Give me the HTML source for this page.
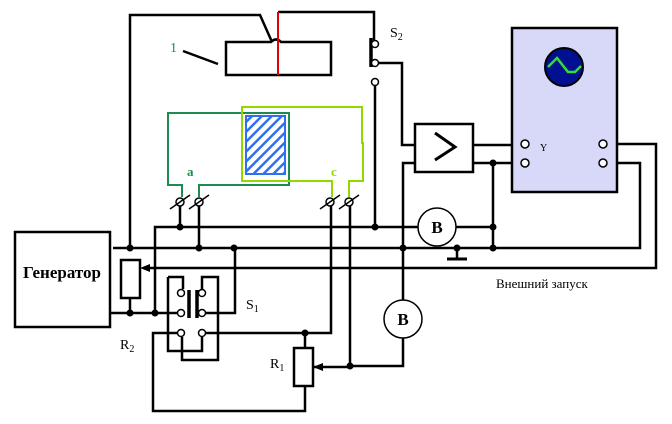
<!DOCTYPE html>
<html><head><style>body{margin:0;background:#fff}svg{display:block}text{font-family:"Liberation Serif",serif}</style></head><body>
<svg width="672" height="424" viewBox="0 0 672 424" xmlns="http://www.w3.org/2000/svg">
<defs><pattern id="h" width="7" height="7" patternUnits="userSpaceOnUse" patternTransform="rotate(45)"><rect width="7" height="7" fill="#fff"/><rect width="2.5" height="7" fill="#3070f0"/></pattern></defs>
<g fill="none" stroke="#000" stroke-width="2.5">
<polyline points="130,248 130,15 260,15 272,42"/>
<path d="M226,42 H271 Q276,37 281,42 H331 V75 H226 Z"/>
<line x1="183" y1="51" x2="218" y2="64"/>
<polyline points="278,12 374,12 374,40"/>
<line x1="371" y1="38" x2="371" y2="67" stroke-width="3.5"/>
<polyline points="379,63 402,63 402,145 415,145"/>
<line x1="375" y1="86" x2="375" y2="227"/>
<rect x="415" y="124" width="58" height="48"/>
<polyline points="435,133 455,147 435,160" stroke-width="3"/>
<line x1="473" y1="145" x2="521" y2="145"/>
<line x1="473" y1="163" x2="521" y2="163"/>
<polyline points="415,163 403,163 403,300"/>
<polyline points="403,338 403,366 350,366"/>
<polyline points="607,144 656,144 656,268 148,268"/>
<polyline points="607,163 640,163 640,248 113,248"/>
<line x1="493" y1="163" x2="493" y2="248"/>
<polyline points="155,313 155,227 418,227"/>
<line x1="456" y1="227" x2="493" y2="227"/>
<line x1="457" y1="248" x2="457" y2="258"/>
<line x1="447" y1="259" x2="467" y2="259" stroke-width="3"/>
<rect x="15" y="232" width="95" height="95"/>
<rect x="121" y="260" width="19" height="38"/>
<line x1="130" y1="298" x2="130" y2="313"/>
<line x1="110" y1="313" x2="177" y2="313"/>
<polyline points="168,277 183,277 183,289"/>
<polyline points="168,277 168,351 202,351 202,337"/>
<polyline points="182,337 182,360 218,360 218,277 202,277 202,289"/>
<line x1="189" y1="290" x2="189" y2="318" stroke-width="3.5"/>
<line x1="197" y1="290" x2="197" y2="318" stroke-width="3.5"/>
<polyline points="206,313 235,313 235,248"/>
<polyline points="177,333 153,333 153,411 305,411 305,386"/>
<polyline points="206,333 331,333 331,205"/>
<line x1="305" y1="333" x2="305" y2="348"/>
<rect x="294" y="348" width="19" height="38"/>
<polyline points="313,367 350,367 350,205"/>
<line x1="180" y1="205" x2="180" y2="227"/>
<line x1="199" y1="205" x2="199" y2="248"/>
</g>
<polygon points="140,268 150,264 150,272" fill="#000"/>
<polygon points="313,367 323,363 323,371" fill="#000"/>
<line x1="278" y1="12" x2="278" y2="75" stroke="#e00000" stroke-width="2"/>
<g fill="none" stroke-width="2">
<polyline points="182,197 182,185 168,185 168,113 289,113 289,185 199,185 199,197" stroke="#1e8c50"/>
<rect x="246" y="116" width="39" height="58" fill="url(#h)" stroke="#3070f0"/>
<polyline points="332,197 332,181 242,181 242,107 362,107 362,143 363,143 363,181 349,181 349,197" stroke="#90d800"/>
</g>
<g fill="#fff" stroke="#000" stroke-width="1.5">
<circle cx="180" cy="202" r="4"/><circle cx="199" cy="202" r="4"/><circle cx="330" cy="202" r="4"/><circle cx="349" cy="202" r="4"/>
<circle cx="375" cy="44" r="3.5"/><circle cx="375" cy="63" r="3.5"/><circle cx="375" cy="82" r="3.5"/>
<circle cx="181" cy="293" r="3.5"/><circle cx="181" cy="313" r="3.5"/><circle cx="181" cy="333" r="3.5"/>
<circle cx="202" cy="293" r="3.5"/><circle cx="202" cy="313" r="3.5"/><circle cx="202" cy="333" r="3.5"/>
</g>
<g stroke="#000" stroke-width="1.5">
<line x1="170" y1="209" x2="190" y2="195"/><line x1="189" y1="209" x2="209" y2="195"/><line x1="320" y1="209" x2="340" y2="195"/><line x1="339" y1="209" x2="359" y2="195"/>
</g>
<rect x="512" y="28" width="105" height="164" fill="#d8d8f8" stroke="#000" stroke-width="2.5"/>
<circle cx="564" cy="67" r="19" fill="#001090" stroke="#000" stroke-width="2"/>
<polyline points="548,67 557,58 568,72 575,72 581,66" fill="none" stroke="#30e030" stroke-width="2.5"/>
<g fill="#fff" stroke="#000" stroke-width="1.5">
<circle cx="525" cy="144" r="4"/><circle cx="525" cy="163" r="4"/><circle cx="603" cy="144" r="4"/><circle cx="603" cy="163" r="4"/>
<circle cx="437" cy="227" r="19"/><circle cx="403" cy="319" r="19"/>
</g>
<g fill="#000">
<circle cx="130" cy="248" r="3.5"/><circle cx="199" cy="248" r="3.5"/><circle cx="234" cy="248" r="3.5"/><circle cx="403" cy="248" r="3.5"/><circle cx="457" cy="248" r="3.5"/><circle cx="493" cy="248" r="3.5"/>
<circle cx="180" cy="227" r="3.5"/><circle cx="375" cy="227" r="3.5"/><circle cx="493" cy="227" r="3.5"/><circle cx="493" cy="163" r="3.5"/>
<circle cx="130" cy="313" r="3.5"/><circle cx="155" cy="313" r="3.5"/><circle cx="305" cy="333" r="3.5"/><circle cx="350" cy="366" r="3.5"/>
</g>
<text x="437" y="233" font-size="17" font-weight="bold" text-anchor="middle">B</text>
<text x="403" y="325" font-size="17" font-weight="bold" text-anchor="middle">B</text>
<text x="62" y="278" font-size="17" font-weight="bold" text-anchor="middle">Генератор</text>
<text x="540" y="151" font-size="10">Y</text>
<text x="170" y="52" font-size="14" fill="#1e8c50">1</text>
<text x="187" y="176" font-size="13" font-weight="bold" fill="#1e8c50">a</text>
<text x="331" y="176" font-size="13" font-weight="bold" fill="#90d800">c</text>
<text x="390" y="37" font-size="14">S<tspan font-size="10" dy="3">2</tspan></text>
<text x="246" y="309" font-size="14">S<tspan font-size="10" dy="3">1</tspan></text>
<text x="120" y="349" font-size="14">R<tspan font-size="10" dy="3">2</tspan></text>
<text x="270" y="368" font-size="14">R<tspan font-size="10" dy="3">1</tspan></text>
<text x="496" y="288" font-size="13">Внешний запуск</text>
</svg>
</body></html>
